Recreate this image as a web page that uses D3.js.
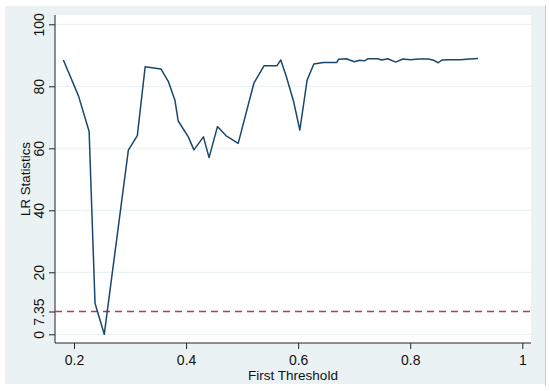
<!DOCTYPE html>
<html><head><meta charset="utf-8">
<script src="https://cdn.jsdelivr.net/npm/d3@7"></script>
<style>html,body{margin:0;padding:0;background:#fff;}svg{display:block;}</style>
</head><body>
<script>
const thresholds = [0.181,0.208,0.227,0.2375,0.254,0.297,0.313,0.327,0.355,0.368,0.380,0.386,0.404,0.414,0.431,0.441,0.456,0.471,0.493,0.521,0.539,0.562,0.569,0.579,0.592,0.603,0.616,0.628,0.645,0.669,0.672,0.686,0.700,0.710,0.718,0.725,0.742,0.749,0.760,0.774,0.787,0.800,0.815,0.833,0.843,0.850,0.857,0.870,0.890,0.905,0.921];
const lrStats = [88.5,76.9,65.4,10.0,0.0,59.4,64.1,86.3,85.6,81.7,75.6,68.8,63.7,59.5,63.7,57.0,67.0,64.1,61.6,81.0,86.6,86.6,88.5,83.1,75.0,65.9,82.0,87.2,87.7,87.7,88.7,88.9,87.9,88.4,88.2,88.9,88.9,88.5,88.9,87.8,88.8,88.6,88.8,88.8,88.3,87.6,88.5,88.6,88.6,88.8,89.0];
const criticalValue = 7.35;
const xTicks = [0.2,0.4,0.6,0.8,1];
const yTicks = [0,7.35,20,40,60,80,100];
const yGrid = [0,20,40,60,80,100];

const W = 550, H = 391;
const svg = d3.select("body").append("svg").attr("width", W).attr("height", H);

svg.append("rect").attr("x",5).attr("y",6).attr("width",540).attr("height",378).attr("fill","#eaf2f3");
svg.append("line").attr("x1",545.5).attr("x2",545.5).attr("y1",5).attr("y2",386).attr("stroke","#c5cdd1").attr("stroke-width",1);

const L = 55, R = 531, T = 15, B = 343;
svg.append("rect").attr("x",L).attr("y",T).attr("width",R-L).attr("height",B-T).attr("fill","#fff");

const x = d3.scaleLinear().domain([0.2,1]).range([74,522.3]);
const y = d3.scaleLinear().domain([0,100]).range([334.3,24.3]);

svg.append("g").selectAll("line").data(yGrid).join("line")
  .attr("x1",L).attr("x2",R).attr("y1",d=>y(d)).attr("y2",d=>y(d))
  .attr("stroke","#eaf2f3").attr("stroke-width",1.2);

const fmt = d => d===7.35 ? "7.35" : d3.format("")(d);
const yAxis = svg.append("g").attr("transform",`translate(${L},0)`)
  .call(d3.axisLeft(y).tickValues(yTicks).tickSize(6).tickPadding(4).tickFormat(fmt));
yAxis.select(".domain").attr("d",`M0,${T}V${B}`).attr("stroke","#222");
yAxis.selectAll(".tick line").attr("stroke","#222");
yAxis.selectAll(".tick text")
  .attr("x",0).attr("y",0).attr("dy",0)
  .attr("transform","translate(-11.5,0) rotate(-90)")
  .attr("text-anchor","middle")
  .attr("font-family","Liberation Sans, Arial, sans-serif").attr("font-size",14).attr("fill","#111");

const xAxis = svg.append("g").attr("transform",`translate(0,${B})`)
  .call(d3.axisBottom(x).tickValues(xTicks).tickSize(6).tickPadding(4).tickFormat(d3.format("")));
xAxis.select(".domain").attr("d",`M${L},0H${R}`).attr("stroke","#222");
xAxis.selectAll(".tick line").attr("stroke","#222");
xAxis.selectAll(".tick text").attr("y",21.5).attr("dy",0)
  .attr("font-family","Liberation Sans, Arial, sans-serif").attr("font-size",14).attr("fill","#111");

svg.append("text").attr("x",(L+R)/2).attr("y",379.5).attr("text-anchor","middle")
  .attr("font-family","Liberation Sans, Arial, sans-serif").attr("font-size",13.5).attr("fill","#111")
  .text("First Threshold");
svg.append("text").attr("transform",`translate(29.5,${(T+B)/2}) rotate(-90)`).attr("text-anchor","middle")
  .attr("font-family","Liberation Sans, Arial, sans-serif").attr("font-size",13.3).attr("fill","#111")
  .text("LR Statistics");

svg.append("line").attr("x1",L).attr("x2",R).attr("y1",y(criticalValue)).attr("y2",y(criticalValue))
  .attr("stroke","#b03c58").attr("stroke-width",1.6).attr("stroke-dasharray","7,5");

const data = thresholds.map((t,i)=>({t, v: lrStats[i]}));
svg.append("path").datum(data)
  .attr("d", d3.line().x(d=>x(d.t)).y(d=>y(d.v)))
  .attr("fill","none").attr("stroke","#1a476f").attr("stroke-width",1.5).attr("stroke-linejoin","round");
</script>
</body></html>
